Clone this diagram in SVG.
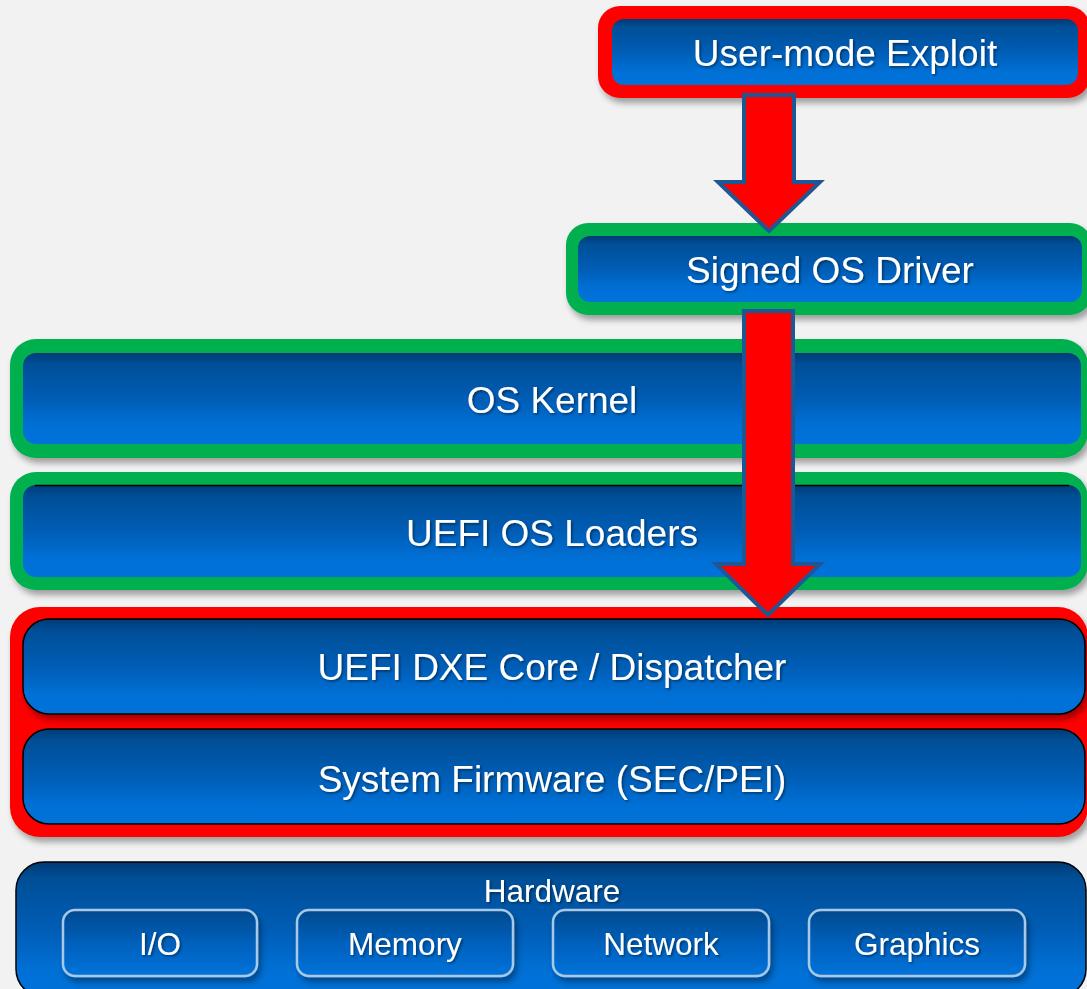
<svg xmlns="http://www.w3.org/2000/svg" width="1087" height="989" viewBox="0 0 1087 989">
<defs>
<linearGradient id="blue" x1="0" y1="0" x2="0" y2="1">
<stop offset="0" stop-color="#003a75"/>
<stop offset="0.12" stop-color="#004e96"/>
<stop offset="0.5" stop-color="#005db5"/>
<stop offset="0.8" stop-color="#0070d6"/>
<stop offset="1" stop-color="#0072d9"/>
</linearGradient>
<linearGradient id="blue2" x1="0" y1="0" x2="0" y2="1">
<stop offset="0" stop-color="#004a8e"/>
<stop offset="0.5" stop-color="#0060bb"/>
<stop offset="1" stop-color="#0073dc"/>
</linearGradient>
<filter id="sh" x="-5%" y="-20%" width="115%" height="150%">
<feDropShadow dx="3" dy="5" stdDeviation="3" flood-color="#000" flood-opacity="0.35"/>
</filter>
<filter id="ts" x="-5%" y="-20%" width="115%" height="150%">
<feDropShadow dx="1.5" dy="1.5" stdDeviation="1" flood-color="#000" flood-opacity="0.45"/>
</filter>
</defs>
<style>
.lbl{font-family:"Liberation Sans",Arial,sans-serif;fill:#fff;text-anchor:middle;font-size:37px}
.sm{font-size:31.5px}
.red{fill:#ff0000}
.grn{fill:#00b050}
.box{fill:url(#blue)}
.blk{fill:url(#blue);stroke:#000;stroke-width:1.5}
.sub{fill:url(#blue2);stroke:#a9c8e6;stroke-width:2.5}
.arrow{fill:#ff0000;stroke:#1f5794;stroke-width:4;stroke-linejoin:miter}
</style>
<rect width="1087" height="989" fill="#f2f2f2"/>

<g id="user-mode-exploit">
<rect x="598" y="6" width="492" height="92" rx="22" class="red" filter="url(#sh)"/>
<rect x="612" y="19" width="466" height="66" rx="12" class="box"/>
<text x="845" y="66" class="lbl" filter="url(#ts)">User-mode Exploit</text>
</g>

<g id="signed-os-driver">
<rect x="566" y="223" width="526" height="92" rx="22" class="grn" filter="url(#sh)"/>
<rect x="578" y="236" width="504" height="66" rx="12" class="box"/>
<text x="830" y="283" class="lbl" filter="url(#ts)">Signed OS Driver</text>
</g>

<g id="os-kernel">
<rect x="10" y="339" width="1078" height="119" rx="26" class="grn" filter="url(#sh)"/>
<rect x="23" y="353" width="1058" height="91" rx="13" class="box"/>
<text x="552" y="413" class="lbl" filter="url(#ts)">OS Kernel</text>
</g>

<g id="uefi-os-loaders">
<rect x="10" y="472" width="1078" height="118" rx="26" class="grn" filter="url(#sh)"/>
<rect x="23" y="485" width="1058" height="92" rx="13" class="box"/>
<line x1="35" y1="485.5" x2="1069" y2="485.5" stroke="#000" stroke-width="1.5"/>
<text x="552" y="546" class="lbl" filter="url(#ts)">UEFI OS Loaders</text>
</g>

<g id="firmware-group">
<rect x="10" y="607" width="1078" height="230" rx="30" class="red" filter="url(#sh)"/>
<g id="uefi-dxe-core">
<rect x="23" y="619" width="1062" height="95" rx="26" class="blk" filter="url(#sh)"/>
<text x="552" y="680" class="lbl" filter="url(#ts)">UEFI DXE Core / Dispatcher</text>
</g>
<g id="system-firmware">
<rect x="23" y="729" width="1062" height="95" rx="26" class="blk"/>
<text x="552" y="792" class="lbl" filter="url(#ts)">System Firmware (SEC/PEI)</text>
</g>
</g>

<g id="hardware">
<rect x="16" y="862" width="1070" height="135" rx="28" class="blk"/>
<text x="552" y="902" class="lbl sm" filter="url(#ts)">Hardware</text>
<g id="hw-io">
<rect x="63" y="910" width="194" height="66" rx="12" class="sub" filter="url(#sh)"/>
<text x="160" y="955" class="lbl sm" filter="url(#ts)">I/O</text>
</g>
<g id="hw-memory">
<rect x="297" y="910" width="216" height="66" rx="12" class="sub" filter="url(#sh)"/>
<text x="405" y="955" class="lbl sm" filter="url(#ts)">Memory</text>
</g>
<g id="hw-network">
<rect x="553" y="910" width="216" height="66" rx="12" class="sub" filter="url(#sh)"/>
<text x="661" y="955" class="lbl sm" filter="url(#ts)">Network</text>
</g>
<g id="hw-graphics">
<rect x="809" y="910" width="216" height="66" rx="12" class="sub" filter="url(#sh)"/>
<text x="917" y="955" class="lbl sm" filter="url(#ts)">Graphics</text>
</g>
</g>

<g id="connectors">
<polygon class="arrow" points="744,95 794,95 794,182 820,182 769,231 718,182 744,182"/>
<polygon class="arrow" points="744,311 793,311 793,564 820,564 768,615 716,564 744,564"/>
</g>
</svg>
